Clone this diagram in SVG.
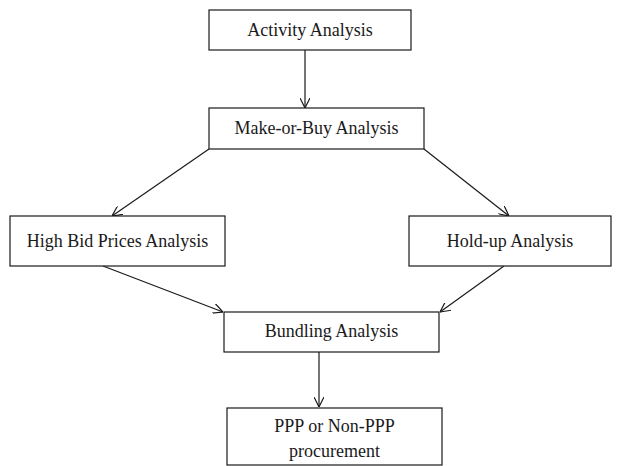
<svg xmlns="http://www.w3.org/2000/svg" width="620" height="466" viewBox="0 0 620 466">
<style>
.box{fill:#fff;stroke:#1a1a1a;stroke-width:1.2}
.t{font-family:"Liberation Serif",serif;font-size:18px;fill:#1a1a1a;text-anchor:middle}
.c{stroke:#1a1a1a;stroke-width:1.2;fill:none;marker-end:url(#ah)}
</style>
<defs>
<marker id="ah" viewBox="0 0 10 10" refX="10" refY="5" markerWidth="10" markerHeight="10" markerUnits="userSpaceOnUse" orient="auto">
<path d="M0,0 L10,5 L0,10" fill="none" stroke="#1a1a1a" stroke-width="1.2"/>
</marker>
</defs>
<g id="connectors">
<line class="c" x1="305" y1="50" x2="305" y2="108"/>
<line class="c" x1="209" y1="149" x2="112" y2="216"/>
<line class="c" x1="424" y1="149" x2="509" y2="216"/>
<line class="c" x1="103" y1="266" x2="223" y2="312"/>
<line class="c" x1="504" y1="266" x2="440" y2="312"/>
<line class="c" x1="319" y1="352" x2="319" y2="407"/>
</g>
<g id="activity"><rect class="box" x="209" y="10" width="202" height="40"/><text class="t" x="310" y="36">Activity Analysis</text></g>
<g id="makebuy"><rect class="box" x="209" y="108" width="215" height="41"/><text class="t" x="316.5" y="134">Make-or-Buy Analysis</text></g>
<g id="highbid"><rect class="box" x="10" y="216" width="215" height="50"/><text class="t" x="117.5" y="247">High Bid Prices Analysis</text></g>
<g id="holdup"><rect class="box" x="409" y="216" width="202" height="50"/><text class="t" x="510" y="247">Hold-up Analysis</text></g>
<g id="bundling"><rect class="box" x="224" y="312" width="215" height="40"/><text class="t" x="331.5" y="337">Bundling Analysis</text></g>
<g id="ppp"><rect class="box" x="227" y="408" width="215" height="57"/><text class="t" x="334.5" y="432">PPP or Non-PPP</text><text class="t" x="334.5" y="457">procurement</text></g>
</svg>
